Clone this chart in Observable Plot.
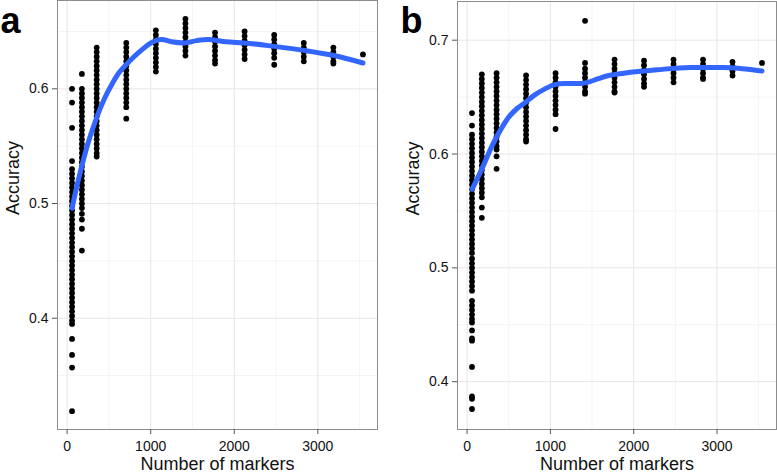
<!DOCTYPE html>
<html><head><meta charset="utf-8">
<script src="https://cdn.jsdelivr.net/npm/d3@7"></script>
<script src="https://cdn.jsdelivr.net/npm/@observablehq/plot@0.6"></script>
<style>
html,body{margin:0;padding:0;background:#fff;}
#wrap{position:relative;width:777px;height:473px;overflow:hidden;display:flex;font-family:"Liberation Sans",Arial,sans-serif;}
#wrap svg{display:block;flex:none;}
</style></head><body><div id="wrap"></div>
<script>
// Number of markers (x positions of the point columns)
const markers = [59, 177, 354, 708, 1062, 1416, 1770, 2124, 2478, 2832, 3186, 3540];

// Panel a: accuracy values per marker column
const accuracyA = [
  [0.600,0.588,0.566,0.537,0.530,0.526,0.522,0.518,0.514,0.510,0.506,0.502,0.498,0.494,0.490,0.486,0.482,0.478,0.474,0.470,0.466,0.462,0.458,0.454,0.450,0.446,0.442,0.438,0.434,0.430,0.426,0.422,0.418,0.414,0.410,0.406,0.402,0.398,0.395,0.382,0.368,0.357,0.319],
  [0.613,0.600,0.596,0.592,0.588,0.584,0.580,0.576,0.572,0.568,0.564,0.560,0.556,0.552,0.548,0.544,0.540,0.536,0.532,0.528,0.524,0.520,0.516,0.512,0.508,0.504,0.500,0.496,0.491,0.486,0.478,0.459],
  [0.636,0.632,0.628,0.624,0.620,0.616,0.612,0.608,0.604,0.600,0.596,0.592,0.588,0.584,0.580,0.576,0.572,0.568,0.564,0.560,0.556,0.552,0.548,0.544,0.541],
  [0.640,0.636,0.632,0.628,0.624,0.620,0.616,0.612,0.608,0.604,0.600,0.596,0.592,0.588,0.584,0.574],
  [0.651,0.647,0.643,0.639,0.635,0.631,0.627,0.623,0.619,0.615],
  [0.661,0.657,0.653,0.649,0.645,0.641,0.637,0.633,0.629],
  [0.649,0.645,0.641,0.637,0.633,0.629,0.625,0.622],
  [0.650,0.646,0.642,0.638,0.634,0.630,0.626],
  [0.647,0.643,0.639,0.635,0.631,0.627,0.621],
  [0.640,0.636,0.632,0.628,0.624],
  [0.636,0.632,0.628,0.624,0.622],
  [0.630]
];

// Panel b: accuracy values per marker column
const accuracyB = [
  [0.636,0.625,0.617,0.613,0.609,0.605,0.601,0.597,0.593,0.589,0.585,0.581,0.577,0.573,0.569,0.565,0.561,0.557,0.553,0.549,0.545,0.541,0.537,0.533,0.529,0.525,0.521,0.517,0.513,0.508,0.504,0.500,0.496,0.492,0.488,0.484,0.480,0.471,0.467,0.463,0.459,0.455,0.452,0.445,0.438,0.436,0.413,0.387,0.385,0.376],
  [0.670,0.666,0.662,0.658,0.654,0.650,0.646,0.642,0.638,0.634,0.630,0.626,0.622,0.618,0.614,0.610,0.606,0.602,0.598,0.594,0.590,0.586,0.582,0.578,0.574,0.570,0.566,0.562,0.553,0.544],
  [0.671,0.667,0.663,0.659,0.655,0.651,0.647,0.643,0.639,0.635,0.631,0.627,0.623,0.619,0.615,0.611,0.607,0.604,0.598,0.587],
  [0.669,0.665,0.661,0.657,0.653,0.649,0.645,0.641,0.637,0.633,0.629,0.625,0.621,0.617,0.613,0.611],
  [0.671,0.667,0.663,0.659,0.655,0.651,0.647,0.643,0.639,0.635,0.622],
  [0.717,0.680,0.675,0.671,0.667,0.663,0.659,0.655,0.653],
  [0.683,0.679,0.675,0.671,0.667,0.663,0.659,0.655,0.654],
  [0.682,0.678,0.674,0.670,0.666,0.662,0.659],
  [0.683,0.679,0.675,0.671,0.667,0.663],
  [0.683,0.679,0.675,0.671,0.667,0.666],
  [0.681,0.677,0.673,0.669],
  [0.680]
];

// Smoothed (loess) curves
const smoothAx = [59,120,177,260,354,450,536,620,706,800,893,980,1060,1131,1250,1408,1550,1687,1900,2123,2480,2837,3194,3540];
const smoothAy = [0.496,0.516,0.533,0.555,0.575,0.592,0.604,0.614,0.621,0.628,0.634,0.639,0.642,0.643,0.641,0.640,0.642,0.643,0.641,0.640,0.637,0.6335,0.629,0.6225];
const smoothBx = [59,120,178,298,400,496,600,694,813,930,1051,1170,1369,1450,1567,1700,1883,2280,2676,3072,3300,3540];
const smoothBy = [0.569,0.578,0.587,0.607,0.621,0.632,0.640,0.645,0.652,0.657,0.661,0.662,0.662,0.663,0.666,0.669,0.671,0.674,0.676,0.676,0.675,0.673];

// Tick labels / grid positions
const xTicks = [0, 1000, 2000, 3000];
const xMinor = [500, 1500, 2500, 3500];
const yTicksA = [0.4, 0.5, 0.6];
const yMinorA = [0.35, 0.45, 0.55, 0.65];
const yTicksB = [0.4, 0.5, 0.6, 0.7];
const yMinorB = [0.45, 0.55, 0.65];

function panel({acc, sx, sy, yDomain, yTicks, yMinor, width, marginLeft, marginRight, marginTop, label}) {
  const pts = acc.flatMap((vals, i) => vals.map(v => ({x: markers[i], y: v})));
  const curve = sx.map((x, i) => ({x, y: sy[i]}));
  return Plot.plot({
    width, height: 473, marginLeft, marginRight, marginTop, marginBottom: 44,
    style: {fontFamily: "'Liberation Sans', Arial, sans-serif", fontSize: "14px", background: "white", overflow: "visible"},
    x: {domain: [-115, 3714]},
    y: {domain: yDomain},
    marks: [
      Plot.ruleX(xMinor, {stroke: "#f4f4f4"}),
      Plot.ruleY(yMinor, {stroke: "#f4f4f4"}),
      Plot.ruleX(xTicks, {stroke: "#e6e6e6"}),
      Plot.ruleY(yTicks, {stroke: "#e6e6e6"}),
      Plot.dot(pts, {x: "x", y: "y", r: 2.9, fill: "black", stroke: null}),
      Plot.line(curve, {x: "x", y: "y", stroke: "#3366FF", strokeWidth: 5, curve: "monotone-x"}),
      Plot.frame({stroke: "#8c8c8c"}),
      Plot.axisX({ticks: xTicks, tickSize: 5, tickPadding: 7, stroke: "#555", fill: "#111", label: null, fontSize: 14, tickFormat: d3.format("d")}),
      Plot.axisY({ticks: yTicks, tickSize: 5, tickPadding: 4, stroke: "#555", fill: "#111", label: null, fontSize: 14, tickFormat: d3.format(".1f")}),
      Plot.text(["Number of markers"], {frameAnchor: "bottom", dy: 40, fontSize: 18, fill: "#111"}),
      Plot.text(["Accuracy"], {frameAnchor: "left", dx: -44, rotate: -90, fontSize: 18, fill: "#111"}),
      Plot.text([label], {frameAnchor: "top-left", dx: -57, dy: 32 - marginTop, lineAnchor: "bottom", textAnchor: "start", fontSize: 36, fontWeight: "bold", fill: "black"})
    ]
  });
}

const wrap = document.getElementById("wrap");
wrap.append(panel({acc: accuracyA, sx: smoothAx, sy: smoothAy, yDomain: [0.303, 0.677], yTicks: yTicksA, yMinor: yMinorA,
  width: 388, marginLeft: 57, marginRight: 11, marginTop: 0, label: "a"}));
wrap.append(panel({acc: accuracyB, sx: smoothBx, sy: smoothBy, yDomain: [0.358, 0.734], yTicks: yTicksB, yMinor: yMinorB,
  width: 389, marginLeft: 69, marginRight: 1, marginTop: 1, label: "b"}));
</script></body></html>
